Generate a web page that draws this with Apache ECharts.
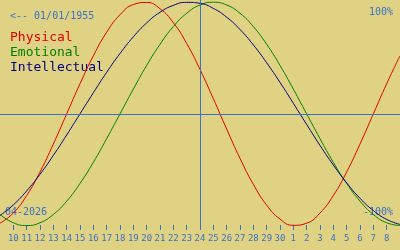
<!DOCTYPE html>
<html><head><meta charset="utf-8">
<script src="https://cdn.jsdelivr.net/npm/echarts@6/dist/echarts.min.js"></script>
<style>html,body{margin:0;padding:0;background:#e0d283;}#c{width:400px;height:250px;}</style>
</head><body><div id="c"></div>
<script>
const days = ['9','10','11','12','13','14','15','16','17','18','19','20','21','22','23','24','25','26','27','28','29','30','1','2','3','4','5','6','7','8','9'];
const physical = [-0.979,-0.888,-0.731,-0.520,-0.270,0,0.270,0.520,0.731,0.888,0.979,0.998,0.942,0.817,0.631,0.398,0.136,-0.136,-0.398,-0.631,-0.817,-0.942,-0.998,-0.979,-0.888,-0.731,-0.520,-0.270,0,0.270,0.520];
const emotional = [-0.901,-0.975,-1.0,-0.975,-0.901,-0.782,-0.623,-0.434,-0.222,0,0.222,0.434,0.623,0.782,0.901,0.975,1.0,0.975,0.901,0.782,0.623,0.434,0.222,0,-0.222,-0.434,-0.623,-0.782,-0.901,-0.975,-1.0];
const intellectual = [-0.910,-0.815,-0.690,-0.541,-0.372,-0.189,0,0.189,0.372,0.541,0.690,0.815,0.910,0.972,0.999,0.990,0.945,0.866,0.756,0.618,0.458,0.282,0.095,-0.095,-0.282,-0.458,-0.618,-0.756,-0.866,-0.945,-0.990];
const today = '24';
const seriesNames = ['Physical','Emotional','Intellectual'];
const seriesColors = ['#e00000','#008000','#000080'];
const birthLabel = '<-- 01/01/1955';
const monthLabel = '04-2026';
const topLabel = '100%';
const bottomLabel = '-100%';

const blue = '#3a70c8';
const mono = 'DejaVu Sans Mono';
const chart = echarts.init(document.getElementById('c'));
const values = [physical, emotional, intellectual];
chart.setOption({
  backgroundColor: '#e0d283',
  animation: false,
  grid: {left: 0, right: 0, top: 0, height: 230},
  xAxis: {
    type: 'category', data: days, boundaryGap: false,
    axisLine: {show: false, onZero: false},
    axisTick: {show: true, inside: true, length: 5, lineStyle: {color: blue, width: 1},
      interval: (i) => i > 0 && i < days.length - 1},
    axisLabel: {color: blue, fontFamily: mono, fontSize: 9, margin: 4,
      interval: (i) => i > 0 && i < days.length - 1},
    splitLine: {show: false}
  },
  yAxis: {type: 'value', min: -1.04, max: 1.02, show: false, splitLine: {show: false}},
  series: values.map((v, k) => ({
    type: 'line', name: seriesNames[k], data: v, smooth: true, showSymbol: false,
    lineStyle: {color: seriesColors[k], width: 1}, itemStyle: {color: seriesColors[k]},
    z: 3,
    markLine: k === 0 ? {
      silent: true, symbol: 'none', label: {show: false},
      lineStyle: {color: blue, width: 1, type: 'solid'},
      data: [{xAxis: today}, {yAxis: 0}]
    } : undefined
  })),
  graphic: [
    {type: 'text', left: 10, top: 11, style: {text: birthLabel, fill: blue, font: '10px ' + mono}},
    {type: 'text', right: 7, top: 7, style: {text: topLabel, fill: blue, font: '10px ' + mono}},
    {type: 'text', left: 5, top: 207, style: {text: monthLabel, fill: blue, font: '10px ' + mono}},
    {type: 'text', right: 7, top: 207, style: {text: bottomLabel, fill: blue, font: '10px ' + mono}},
    ...seriesNames.map((n, k) => ({type: 'text', left: 10, top: 31 + k * 15,
      style: {text: n, fill: seriesColors[k], font: '13px ' + mono}}))
  ]
});
</script></body></html>
